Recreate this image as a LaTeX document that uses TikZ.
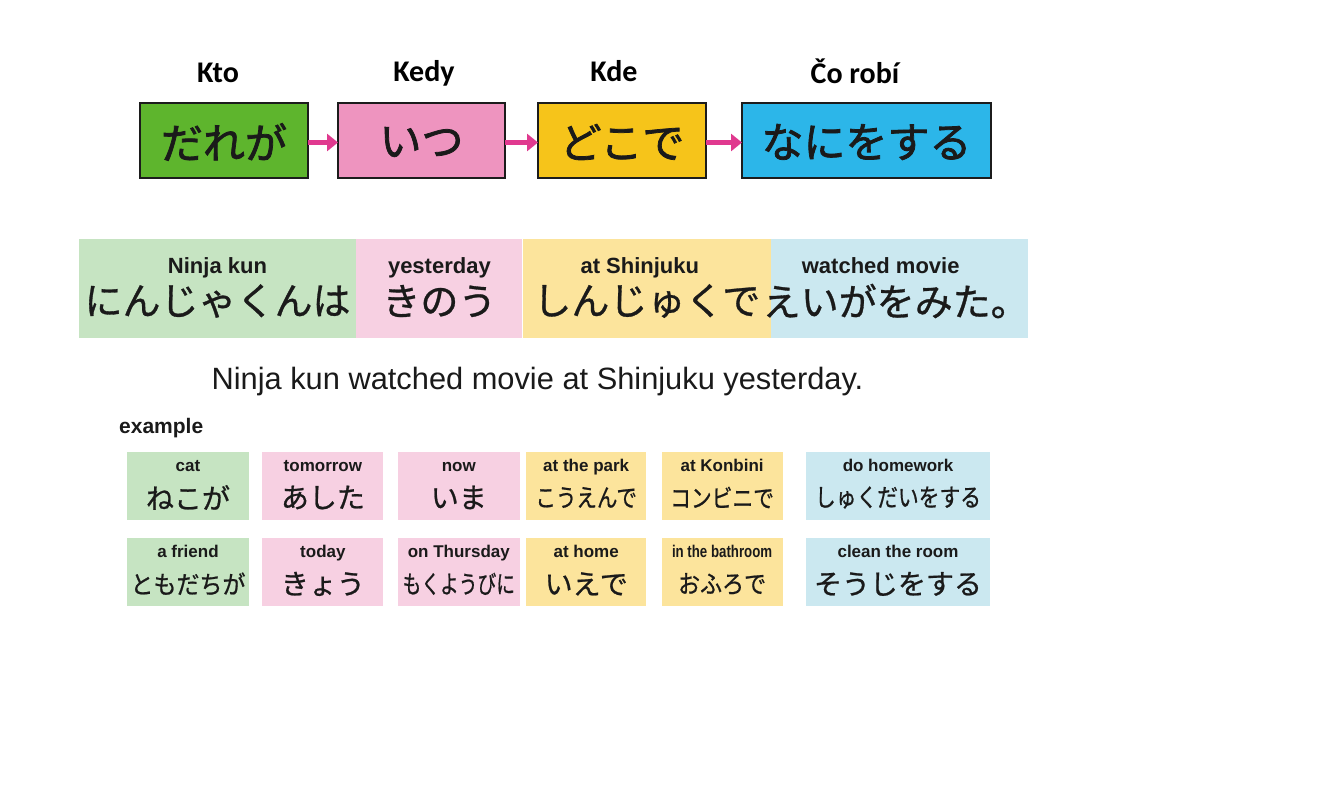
\documentclass[tikz,border=0pt]{standalone}
\usepackage{fontspec}
\setmainfont{Liberation Sans}
\newfontfamily\jpfont{Noto Sans CJK JP}[FakeBold=0.8]
\newfontfamily\jpheavy{Noto Sans CJK JP}[FakeBold=1.8]
\newfontfamily\headfont{Carlito}
\usetikzlibrary{positioning}
\usetikzlibrary{arrows.meta}
\definecolor{boxline}{HTML}{1C1C1C}
\definecolor{inktext}{HTML}{1A1A1A}
\definecolor{linkpink}{HTML}{E0398F}
\definecolor{topgreen}{HTML}{5EB52D}
\definecolor{toppink}{HTML}{EE94BF}
\definecolor{topyellow}{HTML}{F6C41A}
\definecolor{topblue}{HTML}{2CB6E9}
\definecolor{softgreen}{HTML}{C6E4C2}
\definecolor{softpink}{HTML}{F7D0E2}
\definecolor{softyellow}{HTML}{FCE49C}
\definecolor{softblue}{HTML}{CBE8F0}

\begin{document}
\begin{tikzpicture}[x=1pt, y=-1pt,
    topbox/.style={rectangle, draw=boxline, line width=2.8pt, minimum height=75pt, inner sep=0pt, outer sep=0pt},
    topjp/.style={text=inktext, font=\jpheavy\fontsize{42}{42}\selectfont},
    head/.style={anchor=base, text=black, font=\headfont\bfseries\fontsize{30}{30}\selectfont},
    link/.style={-{Triangle[length=11pt,width=17pt]}, line width=5pt, draw=linkpink},
    bigbox/.style={rectangle, minimum height=99pt, inner sep=0pt},
    bigen/.style={anchor=base, text=inktext, font=\bfseries\fontsize{22}{22}\selectfont},
    bigjp/.style={text=inktext, font=\jpfont\fontsize{38}{38}\selectfont},
    wordbox/.style={rectangle, minimum height=68pt, inner sep=0pt},
    worden/.style={anchor=base, text=inktext, font=\bfseries\fontsize{17}{17}\selectfont},
    wordjp/.style={text=inktext, font=\jpfont\fontsize{25}{25}\selectfont},
    wordjpbig/.style={text=inktext, font=\jpfont\fontsize{28}{28}\selectfont}]

    \fill[white] (0,0) rectangle (1331,802);
    \useasboundingbox (0,0) rectangle (1331,802);

    \node [topbox, fill=topgreen, minimum width=168pt] (dare) at (224,140.5) {};
    \node [topbox, fill=toppink, minimum width=167pt, right=30pt of dare] (itsu) {};
    \node [topbox, fill=topyellow, minimum width=168pt, right=33pt of itsu] (doko) {};
    \node [topbox, fill=topblue, minimum width=249pt, right=36pt of doko] (nani) {};
    \node [topjp] (dare-jp) at ([yshift=-1.5pt]dare.center) {だれが};
    \node [topjp] (itsu-jp) at ([yshift=-1.5pt]itsu.center) {いつ};
    \node [topjp] (doko-jp) at ([yshift=-1.5pt]doko.center) {どこで};
    \node [topjp] (nani-jp) at ([yshift=-1.5pt]nani.center) {なにをする};

    \node [head] (kto) at (218,83) {Kto};
    \node [head] (kedy) at (424,82) {Kedy};
    \node [head] (kde) at (614,82) {Kde};
    \node [head] (corobi) at (855,84) {Čo robí};

    \draw [link] ([yshift=-2pt]dare.east) -- ([yshift=-2pt]dare.east -| itsu.west);
    \draw [link] ([yshift=-2pt]itsu.east) -- ([yshift=-2pt]itsu.east -| doko.west);
    \draw [link] ([yshift=-2pt]doko.east) -- ([yshift=-2pt]doko.east -| nani.west);

    \node [bigbox, fill=softgreen, minimum width=277pt] (ninja) at (217.5,288.5) {};
    \node [bigbox, fill=softpink, minimum width=166pt, right=0pt of ninja] (kinou) {};
    \node [bigbox, fill=softyellow, minimum width=248pt, right=0pt of kinou] (shinjuku) {};
    \node [bigbox, fill=softblue, minimum width=257pt, right=0pt of shinjuku] (eiga) {};

    \node [bigen] (ninja-en) at ([yshift=-35pt]ninja.north) {Ninja kun};
    \node [bigen] (kinou-en) at ([yshift=-35pt]kinou.north) {yesterday};
    \node [bigen] (shinjuku-en) at ([xshift=-7pt,yshift=-35pt]shinjuku.north) {at Shinjuku};
    \node [bigen] (eiga-en) at ([xshift=-19pt,yshift=-35pt]eiga.north) {watched movie};
    \node [bigjp] (ninja-jp) at ([yshift=-12.5pt]ninja.center) {にんじゃくんは};
    \node [bigjp] (kinou-jp) at ([yshift=-12.5pt]kinou.center) {きのう};
    \node [bigjp] (shinjuku-jp) at ([yshift=-12.5pt]shinjuku.center) {しんじゅくで};
    \node [bigjp] (eiga-jp) at ([xshift=-4pt,yshift=-12.5pt]eiga.center) {えいがをみた。};

    \node [anchor=base, text=inktext, font=\fontsize{30.8}{30.8}\selectfont] (sentence) at (537.5,389) {Ninja kun watched movie at Shinjuku yesterday.};
    \node [anchor=base west, inner sep=0pt, text=inktext, font=\bfseries\fontsize{21}{21}\selectfont] (example) at (119,433) {example};

    \node [wordbox, fill=softgreen, minimum width=122pt] (neko) at (188,485.5) {};
    \node [wordbox, fill=softpink, minimum width=121pt, right=13pt of neko] (ashita) {};
    \node [wordbox, fill=softpink, minimum width=122pt, right=14pt of ashita] (ima) {};
    \node [wordbox, fill=softyellow, minimum width=120pt, right=6pt of ima] (kouen) {};
    \node [wordbox, fill=softyellow, minimum width=121pt, right=15pt of kouen] (konbini) {};
    \node [wordbox, fill=softblue, minimum width=184pt, right=23pt of konbini] (shukudai) {};

    \node [wordbox, fill=softgreen, minimum width=122pt, below=18pt of neko] (tomodachi) {};
    \node [wordbox, fill=softpink, minimum width=121pt, below=18pt of ashita] (kyou) {};
    \node [wordbox, fill=softpink, minimum width=122pt, below=18pt of ima] (mokuyoubi) {};
    \node [wordbox, fill=softyellow, minimum width=120pt, below=18pt of kouen] (ie) {};
    \node [wordbox, fill=softyellow, minimum width=121pt, below=18pt of konbini] (ofuro) {};
    \node [wordbox, fill=softblue, minimum width=184pt, below=18pt of shukudai] (souji) {};

    \node [worden] (neko-en) at ([yshift=-20pt]neko.north) {cat};
    \node [worden] (ashita-en) at ([yshift=-20pt]ashita.north) {tomorrow};
    \node [worden] (ima-en) at ([yshift=-20pt]ima.north) {now};
    \node [worden] (kouen-en) at ([yshift=-20pt]kouen.north) {at the park};
    \node [worden] (konbini-en) at ([yshift=-20pt]konbini.north) {at Konbini};
    \node [worden] (shukudai-en) at ([yshift=-20pt]shukudai.north) {do homework};
    \node [worden] (tomodachi-en) at ([yshift=-20pt]tomodachi.north) {a friend};
    \node [worden] (kyou-en) at ([yshift=-20pt]kyou.north) {today};
    \node [worden] (mokuyoubi-en) at ([yshift=-20pt]mokuyoubi.north) {on Thursday};
    \node [worden] (ie-en) at ([yshift=-20pt]ie.north) {at home};
    \node [worden] (ofuro-en) at ([yshift=-20pt]ofuro.north) {\scalebox{0.78}[1]{in the bathroom}};
    \node [worden] (souji-en) at ([yshift=-20pt]souji.north) {clean the room};

    \node [wordjpbig] (neko-jp) at ([yshift=-12pt]neko.center) {ねこが};
    \node [wordjpbig] (ashita-jp) at ([yshift=-12pt]ashita.center) {あした};
    \node [wordjpbig] (ima-jp) at ([yshift=-12pt]ima.center) {いま};
    \node [wordjp] (kouen-jp) at ([yshift=-12pt]kouen.center) {\scalebox{0.82}[1]{こうえんで}};
    \node [wordjp] (konbini-jp) at ([yshift=-12pt]konbini.center) {\scalebox{0.83}[1]{コンビニで}};
    \node [wordjp] (shukudai-jp) at ([yshift=-12pt]shukudai.center) {\scalebox{0.83}[1]{しゅくだいをする}};
    \node [wordjp] (tomodachi-jp) at ([yshift=-12pt]tomodachi.center) {\scalebox{0.92}[1]{ともだちが}};
    \node [wordjpbig] (kyou-jp) at ([yshift=-12pt]kyou.center) {きょう};
    \node [wordjp] (mokuyoubi-jp) at ([yshift=-12pt]mokuyoubi.center) {\scalebox{0.75}[1]{もくようびに}};
    \node [wordjpbig] (ie-jp) at ([yshift=-12pt]ie.center) {いえで};
    \node [wordjp] (ofuro-jp) at ([yshift=-12pt]ofuro.center) {\scalebox{0.88}[1]{おふろで}};
    \node [wordjpbig] (souji-jp) at ([yshift=-12pt]souji.center) {そうじをする};
\end{tikzpicture}
\end{document}
